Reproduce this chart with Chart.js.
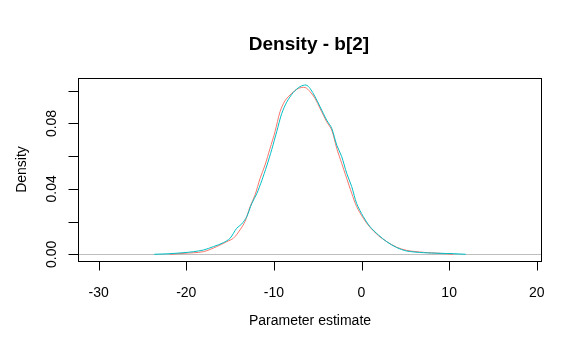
<!DOCTYPE html>
<html>
<head>
<meta charset="utf-8">
<script src="https://cdn.jsdelivr.net/npm/chart.js@4"></script>
<style>
html,body{margin:0;padding:0;background:#fff;}
#wrap{width:582px;height:359px;position:relative;}
</style>
</head>
<body>
<div id="wrap"><canvas id="c" width="582" height="359"></canvas></div>
<script>
// ---- data ----
const chartTitle = "Density - b[2]";
const xAxisTitle = "Parameter estimate";
const yAxisTitle = "Density";
const xTicks = [-30, -20, -10, 0, 10, 20];
const yTicks = [0, 0.02, 0.04, 0.06, 0.08, 0.10];
const yTickLabels = ["0.00", "", "0.04", "", "0.08", ""];
const xRange = [-32.36, 20.6];
const yRange = [-0.0041, 0.1078];

const redX = [-21.86,-20.26,-18.05,-16.53,-15.39,-14.63,-13.87,-13.3,-12.72,-12.15,-11.58,-11.01,-10.44,-9.87,-9.3,-8.73,-7.97,-7.21,-6.44,-5.87,-5.3,-4.73,-3.97,-3.4,-2.83,-2.26,-1.69,-1.12,-0.55,0.21,0.97,1.93,2.88,4.02,5.16,7.06,8.97,10.49];
const redY = [0,0.0006,0.0016,0.0047,0.0077,0.0098,0.0149,0.02,0.0291,0.0363,0.0464,0.0546,0.0648,0.075,0.0872,0.0939,0.0984,0.1014,0.102,0.0994,0.0953,0.0892,0.081,0.076,0.0648,0.0556,0.0464,0.0373,0.0291,0.022,0.0165,0.0114,0.0077,0.0043,0.0024,0.0012,0.0006,0];

const cyanX = [-23.65,-21.86,-20.26,-19.19,-18.05,-16.9,-15.77,-15.0,-14.25,-13.68,-13.1,-12.53,-11.96,-11.39,-10.82,-10.25,-9.68,-9.11,-8.54,-7.78,-7.02,-6.33,-5.87,-5.3,-4.73,-3.97,-3.4,-2.83,-2.26,-1.69,-1.12,-0.55,0.21,0.97,1.93,2.88,4.02,5.16,7.06,8.97,10.49,11.9];
const cyanY = [0,0.0004,0.001,0.0016,0.0026,0.0047,0.0071,0.0098,0.0159,0.0185,0.023,0.031,0.037,0.045,0.054,0.064,0.075,0.086,0.093,0.099,0.1025,0.1035,0.1014,0.0963,0.0902,0.082,0.077,0.0668,0.0597,0.0495,0.0414,0.031,0.023,0.0169,0.0118,0.0077,0.0041,0.002,0.001,0.0006,0.0004,0];

const toPts = (xs, ys) => xs.map((x, i) => ({x: x, y: ys[i]}));

const FONT = "'Liberation Sans', Arial, sans-serif";

const rAxes = {
  id: 'rAxes',
  beforeDatasetsDraw(chart) {
    const ctx = chart.ctx, ys = chart.scales.y, a = chart.chartArea;
    ctx.save();
    ctx.strokeStyle = '#BEBEBE';
    ctx.lineWidth = 1;
    const y0 = Math.round(ys.getPixelForValue(0)) + 0.5;
    ctx.beginPath(); ctx.moveTo(a.left, y0); ctx.lineTo(a.right, y0); ctx.stroke();
    ctx.restore();
  },
  afterDraw(chart) {
    const ctx = chart.ctx, xs = chart.scales.x, ys = chart.scales.y, a = chart.chartArea;
    ctx.save();
    ctx.strokeStyle = '#000';
    ctx.lineWidth = 1;
    ctx.strokeRect(a.left + 0.5, a.top + 0.5, a.right - a.left - 1, a.bottom - a.top);
    ctx.fillStyle = '#000';
    ctx.font = '14px ' + FONT;
    ctx.textAlign = 'center';
    ctx.textBaseline = 'alphabetic';
    ctx.beginPath();
    xTicks.forEach(v => {
      const px = Math.round(xs.getPixelForValue(v)) + 0.5;
      ctx.moveTo(px, a.bottom + 0.5); ctx.lineTo(px, a.bottom + 9.5);
    });
    yTicks.forEach(v => {
      const py = Math.round(ys.getPixelForValue(v)) + 0.5;
      ctx.moveTo(a.left + 0.5, py); ctx.lineTo(a.left - 9.5, py);
    });
    ctx.stroke();
    xTicks.forEach(v => {
      ctx.fillText(String(v), xs.getPixelForValue(v), 296.5);
    });
    yTicks.forEach((v, i) => {
      if (!yTickLabels[i]) return;
      ctx.save();
      ctx.translate(55.5, ys.getPixelForValue(v));
      ctx.rotate(-Math.PI / 2);
      ctx.fillText(yTickLabels[i], 0, 0);
      ctx.restore();
    });
    const cx = (a.left + a.right) / 2;
    ctx.fillText(xAxisTitle, cx, 324.5);
    ctx.save();
    ctx.translate(25.5, (a.top + a.bottom) / 2);
    ctx.rotate(-Math.PI / 2);
    ctx.fillText(yAxisTitle, 0, 0);
    ctx.restore();
    ctx.font = 'bold 19px ' + FONT;
    ctx.fillText(chartTitle, cx - 1, 49.5);
    ctx.restore();
  }
};

new Chart(document.getElementById('c'), {
  type: 'scatter',
  data: {
    datasets: [
      { label: 'chain 1', data: toPts(redX, redY), showLine: true, borderColor: '#F8766D', borderWidth: 1, pointRadius: 0, tension: 0.3, order: 2, fill: false },
      { label: 'chain 2', data: toPts(cyanX, cyanY), showLine: true, borderColor: '#00BFC4', borderWidth: 1, pointRadius: 0, tension: 0.3, order: 1, fill: false }
    ]
  },
  options: {
    responsive: false,
    animation: false,
    devicePixelRatio: 1,
    layout: { padding: { left: 78, top: 78, right: 40, bottom: 98 } },
    plugins: { legend: { display: false }, tooltip: { enabled: false }, title: { display: false } },
    scales: {
      x: { type: 'linear', display: false, min: xRange[0], max: xRange[1] },
      y: { type: 'linear', display: false, min: yRange[0], max: yRange[1] }
    }
  },
  plugins: [rAxes]
});
</script>
</body>
</html>
